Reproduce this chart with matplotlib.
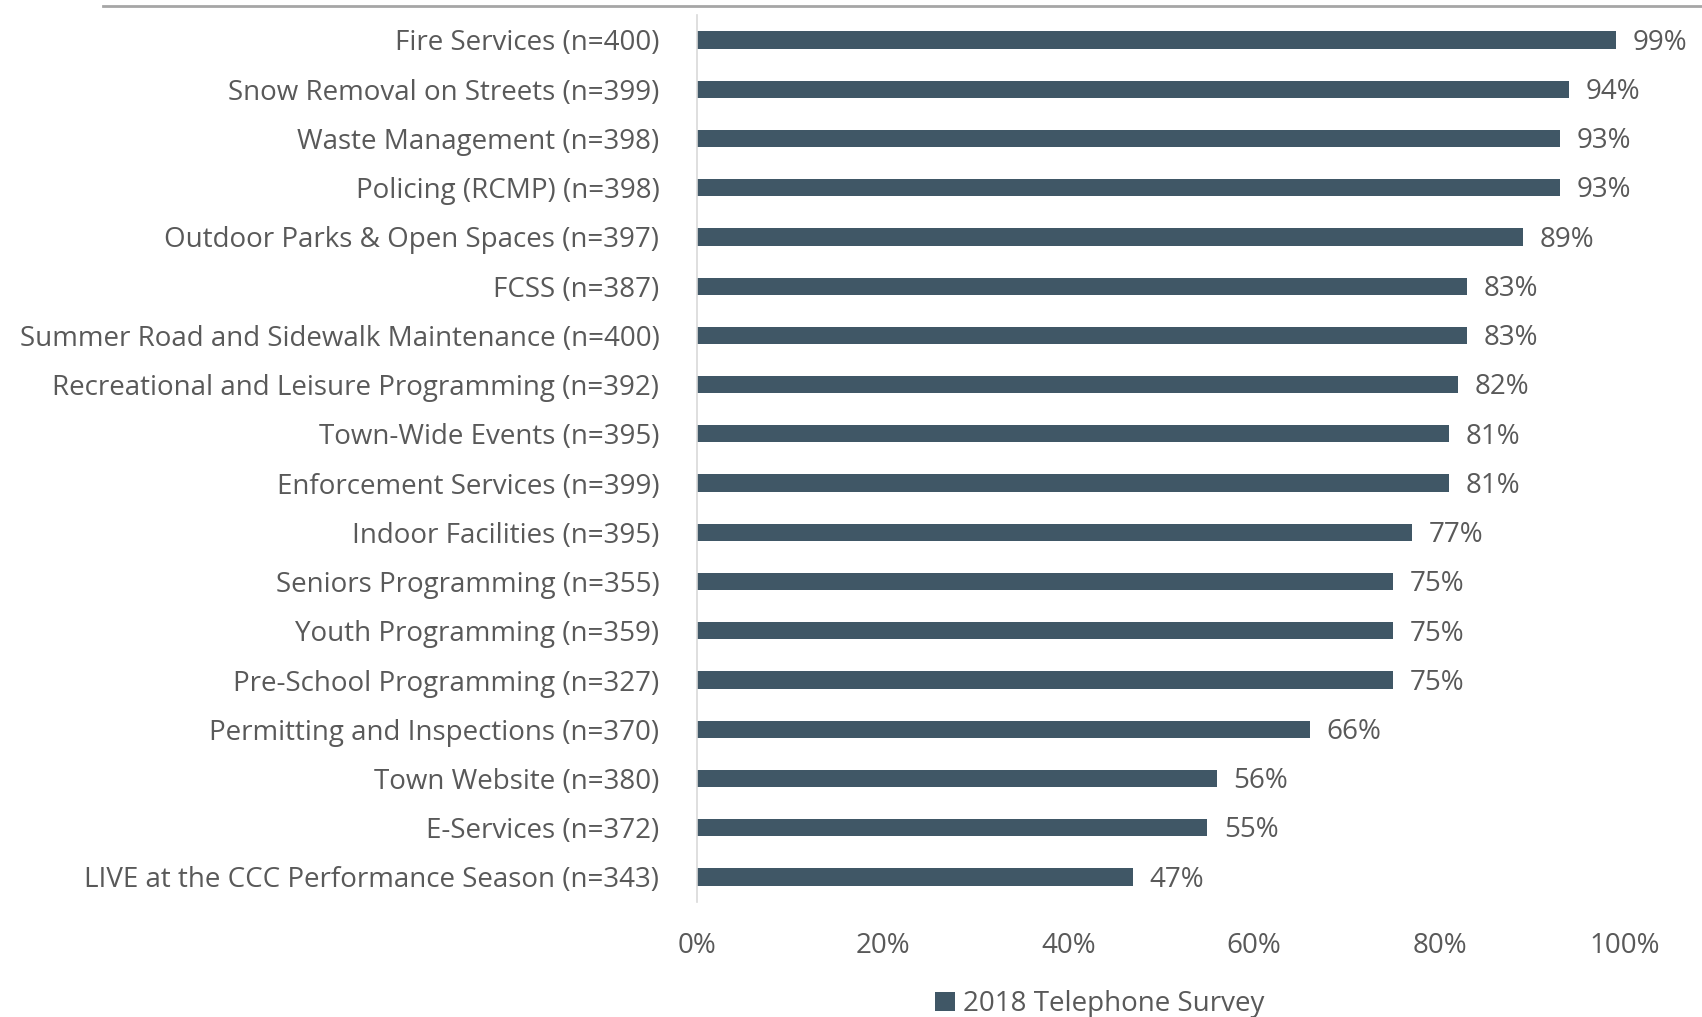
import matplotlib
matplotlib.use("Agg")
import matplotlib.pyplot as plt
from matplotlib.lines import Line2D
from matplotlib.patches import Patch

# 服務類別與滿意度
categories = [
    "Fire Services (n=400)",
    "Snow Removal on Streets (n=399)",
    "Waste Management (n=398)",
    "Policing (RCMP) (n=398)",
    "Outdoor Parks & Open Spaces (n=397)",
    "FCSS (n=387)",
    "Summer Road and Sidewalk Maintenance (n=400)",
    "Recreational and Leisure Programming (n=392)",
    "Town-Wide Events (n=395)",
    "Enforcement Services (n=399)",
    "Indoor Facilities (n=395)",
    "Seniors Programming (n=355)",
    "Youth Programming (n=359)",
    "Pre-School Programming (n=327)",
    "Permitting and Inspections (n=370)",
    "Town Website (n=380)",
    "E-Services (n=372)",
    "LIVE at the CCC Performance Season (n=343)",
]
values = [99, 94, 93, 93, 89, 83, 83, 82, 81, 81, 77, 75, 75, 75, 66, 56, 55, 47]
xticks = [0, 20, 40, 60, 80, 100]
series_name = "2018 Telephone Survey"

bar_color = "#405766"
text_color = "#595959"

plt.rcParams["font.family"] = ["Open Sans", "DejaVu Sans"]

fig = plt.figure(figsize=(17.02, 10.17), dpi=100)
ax = fig.add_axes([0.4095, 0.1135, 0.9548 - 0.4095, 0.9849 - 0.1135])

y = list(range(len(categories)))
ax.barh(y, values, height=0.35, color=bar_color)
ax.set_ylim(len(categories) - 0.5, -0.5)
ax.set_xlim(0, 100)

ax.set_yticks(y)
ax.set_yticklabels(categories, fontsize=20, color=text_color)
ax.set_xticks(xticks)
ax.set_xticklabels([f"{t}%" for t in xticks], fontsize=20, color=text_color)
ax.tick_params(axis="both", length=0)
ax.tick_params(axis="y", pad=27)
ax.tick_params(axis="x", pad=22)

for s in ["top", "right", "bottom"]:
    ax.spines[s].set_visible(False)
ax.spines["left"].set_color("#D9D9D9")
ax.spines["left"].set_linewidth(1.2)

for yi, v in zip(y, values):
    ax.annotate(f"{v}%", (v, yi), xytext=(12, -2), textcoords="offset points",
                va="center", ha="left", fontsize=20, color=text_color)

# 上方灰線
fig.add_artist(Line2D([103 / 1702, 1.0], [1 - 6 / 1017] * 2,
                      color="#A6A6A6", linewidth=2))

handle = Patch(facecolor=bar_color, edgecolor="none")
fig.legend([handle], [series_name], loc="center", bbox_to_anchor=(1100 / 1702, 1 - 1004 / 1017),
           frameon=False, fontsize=20, handlelength=0.7, handleheight=0.7,
           handletextpad=0.3, labelcolor=text_color)

fig.savefig("out.png", dpi=100)
